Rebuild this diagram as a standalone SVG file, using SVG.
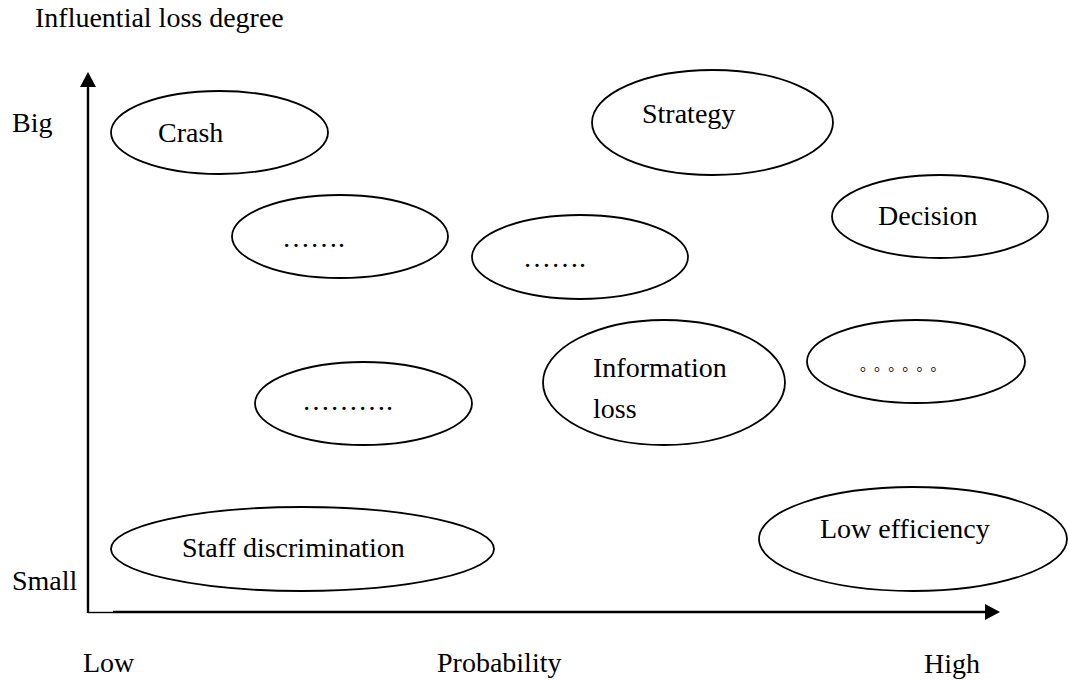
<svg xmlns="http://www.w3.org/2000/svg" width="1069" height="681" viewBox="0 0 1069 681">
<style>
text{font-family:"Liberation Serif","Times New Roman",serif;font-size:28px;fill:#000}
.n ellipse{fill:#fff;stroke:#000;stroke-width:1.8}
.ax{stroke:#000;stroke-width:2.4;fill:none}
.cjk{font-family:"Noto Sans CJK SC","Noto Sans CJK JP",sans-serif;font-size:15px}
</style>
<defs>
<marker id="arr" markerUnits="userSpaceOnUse" markerWidth="16" markerHeight="17" refX="0" refY="8" orient="auto">
<path d="M0,0 L15,8 L0,16 z" fill="#000"/>
</marker>
</defs>
<rect width="1069" height="681" fill="#fff"/>
<g id="labels">
<text x="35" y="27">Influential loss degree</text>
<text x="12" y="132">Big</text>
<text x="12" y="590">Small</text>
<text x="83" y="672">Low</text>
<text x="437" y="672">Probability</text>
<text x="924" y="673">High</text>
</g>
<g id="connectors">
<line class="ax" x1="88" y1="613" x2="88" y2="87" marker-end="url(#arr)"/>
<line x1="88" y1="612.5" x2="113" y2="612.5" stroke="#000" stroke-width="1.4"/>
<line class="ax" x1="113" y1="612" x2="985" y2="612" marker-end="url(#arr)"/>
</g>
<g id="crash" class="n"><ellipse cx="219.5" cy="132.5" rx="108.5" ry="41.5"/><text x="158" y="142">Crash</text></g>
<g id="dots1" class="n"><ellipse cx="340" cy="236.5" rx="108" ry="41.5"/><text x="282" y="247">…….</text></g>
<g id="strategy" class="n"><ellipse cx="712.5" cy="122.5" rx="120.5" ry="52.5"/><text x="642" y="123">Strategy</text></g>
<g id="decision" class="n"><ellipse cx="940" cy="216.5" rx="108" ry="41.5"/><text x="878" y="225">Decision</text></g>
<g id="dots2" class="n"><ellipse cx="580" cy="257" rx="108" ry="42"/><text x="523" y="267">…….</text></g>
<g id="infoloss" class="n"><ellipse cx="664" cy="382.5" rx="121" ry="62.5"/><text x="593" y="377">Information</text><text x="593" y="418">loss</text></g>
<g id="circles" class="n"><ellipse cx="916" cy="361.5" rx="109" ry="41.5"/><text class="cjk" x="860 874.1 888.2 902.3 916.4 930.5" y="370">。。。。。。</text></g>
<g id="dots3" class="n"><ellipse cx="363.5" cy="403.5" rx="108.5" ry="41.5"/><text x="302" y="410">……….</text></g>
<g id="staff" class="n"><ellipse cx="302.5" cy="549" rx="191.5" ry="42"/><text x="182" y="557">Staff discrimination</text></g>
<g id="loweff" class="n"><ellipse cx="913" cy="539" rx="154" ry="52"/><text x="820" y="538">Low efficiency</text></g>
</svg>
